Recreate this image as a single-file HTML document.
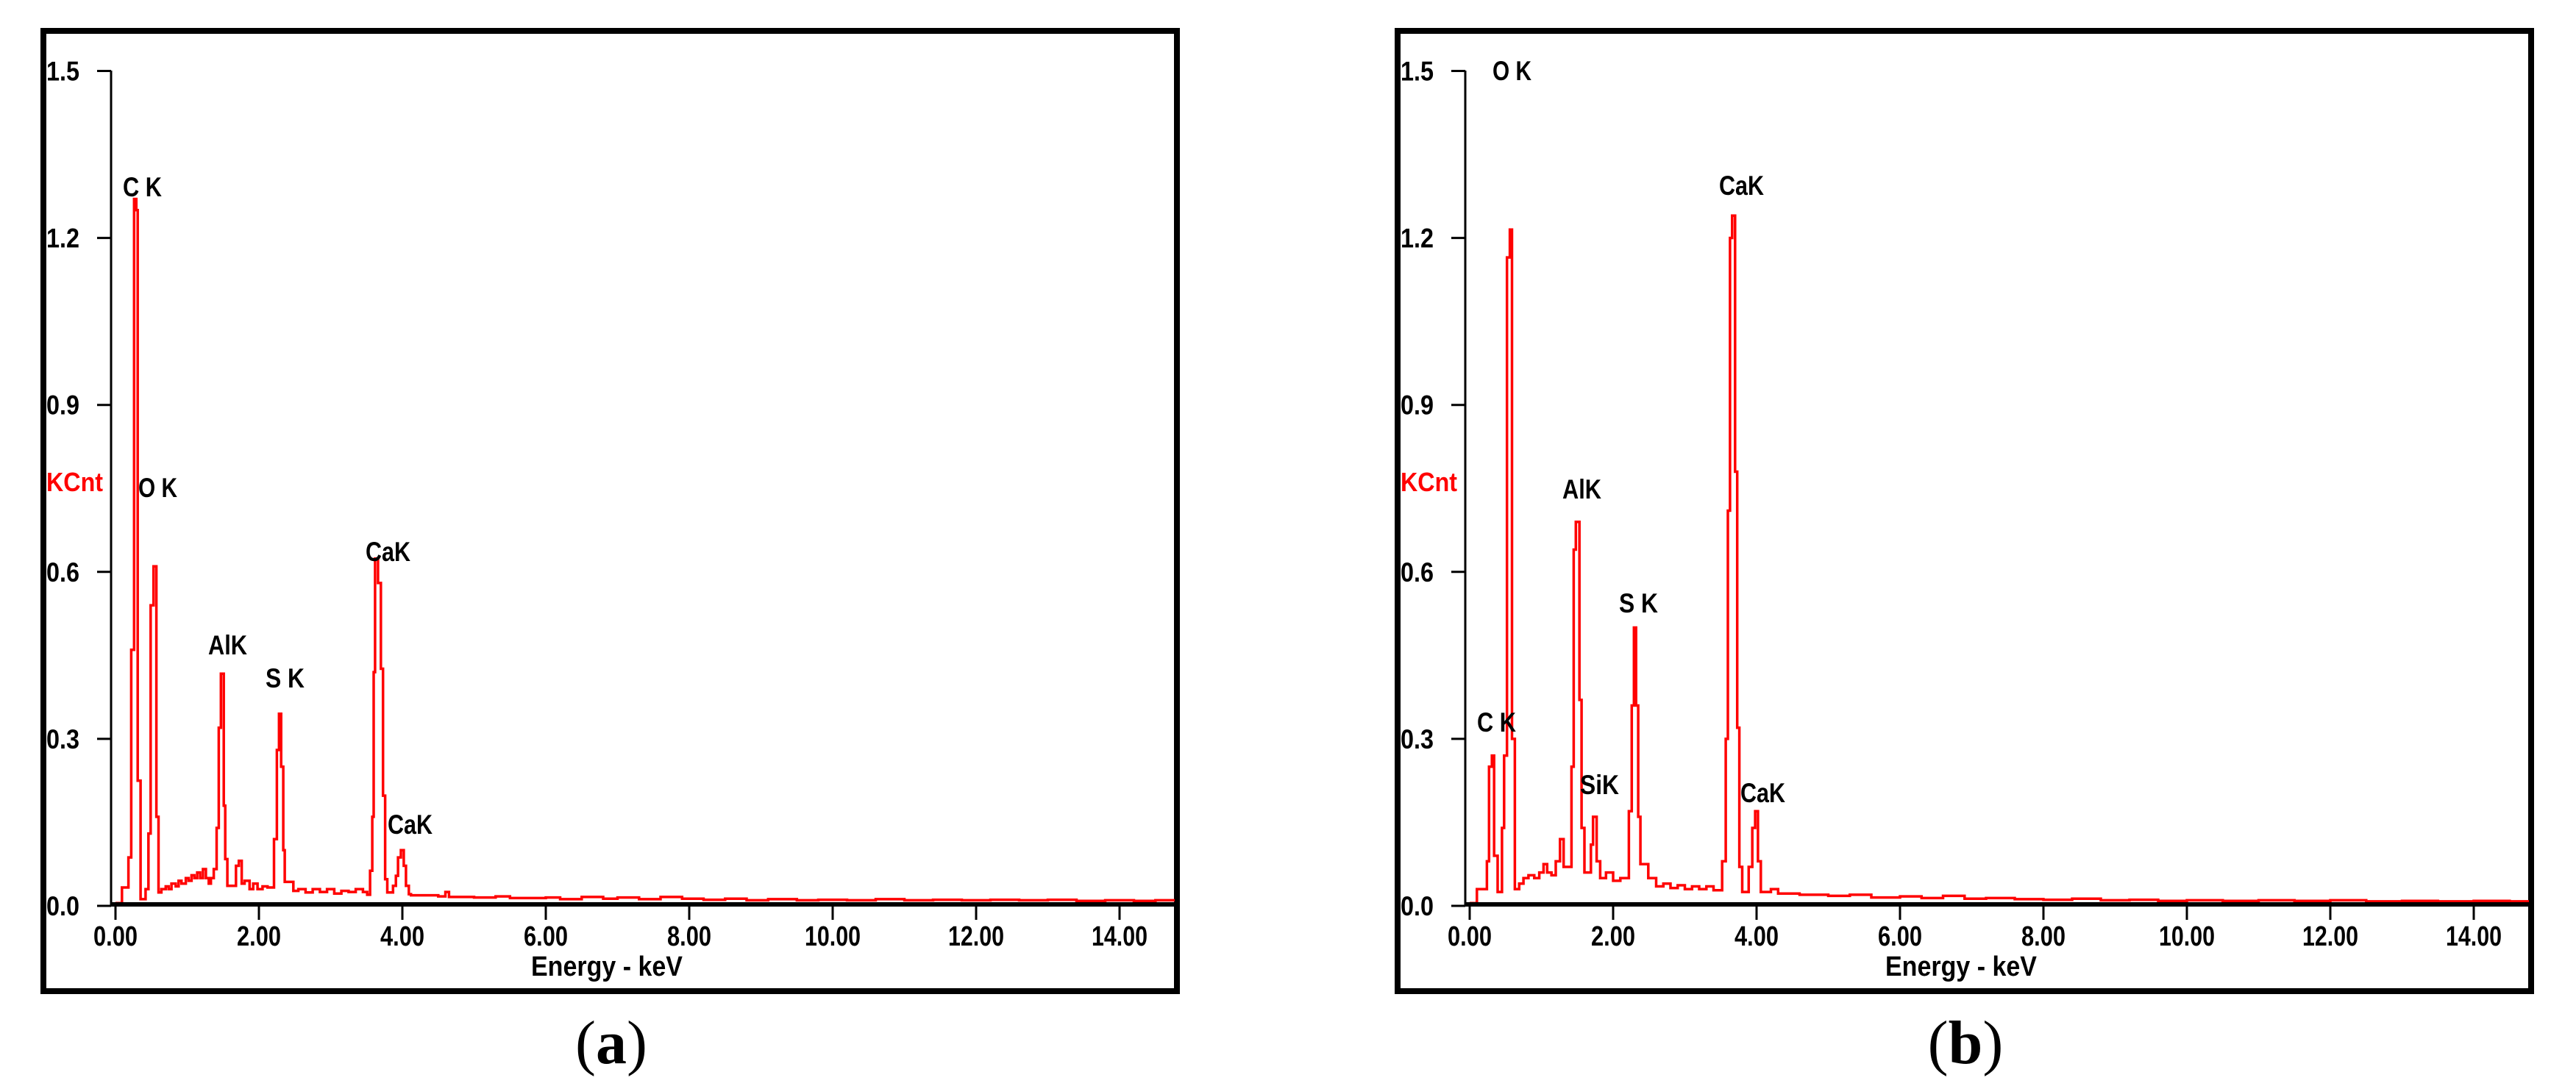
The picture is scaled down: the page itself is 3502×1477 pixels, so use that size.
<!DOCTYPE html>
<html><head><meta charset="utf-8"><style>
html,body{margin:0;padding:0;background:#fff;}
svg{display:block;}
text{font-family:"Liberation Sans",sans-serif;font-weight:bold;}
</style></head><body>
<svg id="fig" width="3502" height="1477" viewBox="0 0 3502 1477" xmlns="http://www.w3.org/2000/svg"></svg>
<script>
// ---- Chart data (energy keV bin start, counts KCnt) ----
const yTicks = [0.0, 0.3, 0.6, 0.9, 1.2, 1.5];
const yTickLabels = ["0.0", "0.3", "0.6", "0.9", "1.2", "1.5"];
const xTicks = [0, 2, 4, 6, 8, 10, 12, 14];
const xTickLabels = ["0.00", "2.00", "4.00", "6.00", "8.00", "10.00", "12.00", "14.00"];

const energiesA = [0,0.09,0.18,0.22,0.26,0.29,0.31,0.35,0.42,0.46,0.49,0.53,0.57,0.60,0.64,0.70,0.74,0.78,0.84,0.88,0.92,0.98,1.02,1.06,1.10,1.14,1.18,1.22,1.26,1.30,1.33,1.37,1.41,1.44,1.47,1.51,1.53,1.56,1.68,1.72,1.76,1.80,1.87,1.92,1.98,2.05,2.12,2.21,2.25,2.28,2.31,2.34,2.36,2.48,2.55,2.65,2.75,2.85,2.95,3.05,3.15,3.25,3.35,3.45,3.51,3.55,3.58,3.60,3.62,3.66,3.70,3.73,3.76,3.79,3.87,3.91,3.94,3.98,4.02,4.05,4.09,4.12,4.5,4.6,4.65,5.0,5.3,5.5,6.0,6.2,6.5,6.8,7.0,7.3,7.6,7.9,8.2,8.5,8.8,9.1,9.5,9.8,10.2,10.6,11.0,11.4,11.8,12.2,12.6,13.0,13.4,13.8,14.2,14.5];
const countsA = [0.005,0.033,0.087,0.46,1.27,1.25,0.225,0.012,0.03,0.13,0.54,0.61,0.16,0.024,0.03,0.035,0.03,0.04,0.035,0.045,0.04,0.05,0.045,0.055,0.05,0.06,0.05,0.066,0.05,0.04,0.05,0.066,0.14,0.32,0.417,0.18,0.084,0.036,0.072,0.081,0.04,0.045,0.03,0.04,0.03,0.035,0.033,0.12,0.28,0.345,0.25,0.10,0.043,0.027,0.03,0.024,0.03,0.025,0.03,0.022,0.027,0.025,0.03,0.025,0.02,0.063,0.16,0.42,0.624,0.58,0.426,0.198,0.048,0.024,0.036,0.054,0.087,0.1,0.072,0.036,0.021,0.019,0.017,0.025,0.016,0.015,0.017,0.014,0.015,0.012,0.016,0.013,0.015,0.012,0.016,0.013,0.011,0.013,0.010,0.012,0.010,0.011,0.010,0.012,0.010,0.011,0.010,0.011,0.010,0.011,0.009,0.010,0.009,0.010];

const energiesB = [0,0.1,0.24,0.27,0.31,0.34,0.39,0.45,0.48,0.52,0.56,0.59,0.63,0.69,0.75,0.82,0.90,0.97,1.03,1.08,1.14,1.20,1.26,1.31,1.42,1.45,1.48,1.53,1.56,1.60,1.69,1.72,1.77,1.82,1.90,2.0,2.1,2.22,2.26,2.29,2.32,2.35,2.38,2.49,2.6,2.7,2.8,2.9,3.0,3.1,3.2,3.3,3.4,3.52,3.57,3.60,3.63,3.66,3.70,3.73,3.76,3.80,3.89,3.94,3.98,4.02,4.06,4.2,4.3,4.6,5.0,5.3,5.6,6.0,6.3,6.6,6.9,7.2,7.6,8.0,8.4,8.8,9.2,9.6,10.0,10.5,11.0,11.5,12.0,12.5,13.0,13.5,14.0,14.5];
const countsB = [0.005,0.03,0.08,0.25,0.27,0.09,0.025,0.14,0.27,1.165,1.215,0.30,0.03,0.04,0.05,0.055,0.05,0.06,0.075,0.06,0.055,0.08,0.12,0.07,0.25,0.64,0.69,0.37,0.14,0.06,0.11,0.16,0.08,0.05,0.06,0.045,0.05,0.17,0.36,0.50,0.36,0.16,0.075,0.05,0.035,0.04,0.032,0.037,0.03,0.035,0.03,0.035,0.028,0.08,0.30,0.71,1.2,1.24,0.78,0.32,0.07,0.025,0.07,0.14,0.17,0.08,0.025,0.03,0.022,0.02,0.018,0.02,0.015,0.017,0.014,0.018,0.013,0.014,0.012,0.011,0.013,0.010,0.011,0.009,0.010,0.009,0.010,0.009,0.010,0.008,0.009,0.008,0.009,0.008];

const peakNamesA = ["C K","O K","AlK","S K","CaK","CaK"];
const peakLabelPosA = [[167,267],[188,676],[283,890],[361,935],[497,763],[527,1134]];
const peakNamesB = ["O K","CaK","AlK","S K","C K","SiK","CaK"];
const peakLabelPosB = [[188,109],[496,265],[283,678],[360,833],[167,995],[307,1080],[525,1091]];

const NS = "http://www.w3.org/2000/svg";
const svg = document.getElementById("fig");
function mk(tag, attrs, parent){
  const e = document.createElementNS(NS, tag);
  for (const k in attrs) e.setAttribute(k, attrs[k]);
  (parent||svg).appendChild(e);
  return e;
}

function drawPanel(off, energies, counts, names, labelPos, caption, key){
  const g = mk("g", {});
  
  
  const x = e => off + 157 + e * 97.5;
  const y = v => 1232 - v * 757;
  const xEnd = off + 1597;

  const frame = mk("rect", {x: off+59, y: 42, width: 1541, height: 1306, fill: "none", stroke: "#000", "stroke-width": 8}, g);
  
  

  let d = "";
  for (let i = 0; i < energies.length; i++){
    const x0 = x(energies[i]);
    const x1 = i + 1 < energies.length ? x(energies[i+1]) : xEnd;
    const yy = y(counts[i]);
    d += (i === 0 ? "M" : "L") + x0.toFixed(1) + "," + yy.toFixed(1) + "L" + Math.min(x1, xEnd).toFixed(1) + "," + yy.toFixed(1);
  }
  const line = mk("path", {d: d, fill: "none", stroke: "#ff0000", "stroke-width": 3.5, "stroke-linejoin": "miter"}, g);
  
  

  const yAxis = mk("line", {x1: off+151, y1: 96, x2: off+151, y2: 1233, stroke: "#000", "stroke-width": 3}, g);
  
  
  const xAxis = mk("line", {x1: off+151, y1: 1230, x2: xEnd, y2: 1230, stroke: "#000", "stroke-width": 6}, g);
  
  

  yTicks.forEach((v, i) => {
    const t = mk("line", {x1: off+132, y1: y(v), x2: off+151, y2: y(v), stroke: "#000", "stroke-width": 3}, g);
    
    
    const tl = mk("text", {x: off+108, y: y(v)+13, "font-size": 37, "text-anchor": "end", textLength: 45, lengthAdjust: "spacingAndGlyphs"}, g);
    tl.textContent = yTickLabels[i];
    
    
  });
  xTicks.forEach((v, i) => {
    const t = mk("line", {x1: x(v), y1: 1233, x2: x(v), y2: 1251, stroke: "#000", "stroke-width": 3}, g);
    
    
    const w = xTickLabels[i].length > 4 ? 76 : 60;
    const tl = mk("text", {x: x(v), y: 1286, "font-size": 38, "text-anchor": "middle", textLength: w, lengthAdjust: "spacingAndGlyphs"}, g);
    tl.textContent = xTickLabels[i];
    
    
  });

  const xt = mk("text", {x: off+825, y: 1327, "font-size": 38, "text-anchor": "middle", textLength: 206, lengthAdjust: "spacingAndGlyphs"}, g);
  xt.textContent = "Energy - keV";
  
  

  const yt = mk("text", {x: off+63, y: 668, "font-size": 36, fill: "#ff0000", textLength: 77, lengthAdjust: "spacingAndGlyphs"}, g);
  yt.textContent = "KCnt";
  
  

  names.forEach((n, i) => {
    const p = labelPos[i];
    const w = n === "CaK" ? 61 : 53;
    const t = mk("text", {x: off + p[0], y: p[1], "font-size": 37, textLength: w, lengthAdjust: "spacingAndGlyphs"}, g);
    t.textContent = n;
    
    
  });

  const cap = mk("text", {x: off+831, y: 1446, "font-size": 84, "text-anchor": "middle"}, g);
  cap.setAttribute("style", "font-family:'Liberation Serif',serif;font-weight:normal");
  cap.innerHTML = '(<tspan font-weight="bold">' + caption + '</tspan>)';
  
  
}

drawPanel(0, energiesA, countsA, peakNamesA, peakLabelPosA, "a", "chart-a");
drawPanel(1841, energiesB, countsB, peakNamesB, peakLabelPosB, "b", "chart-b");
</script>
</body></html>
